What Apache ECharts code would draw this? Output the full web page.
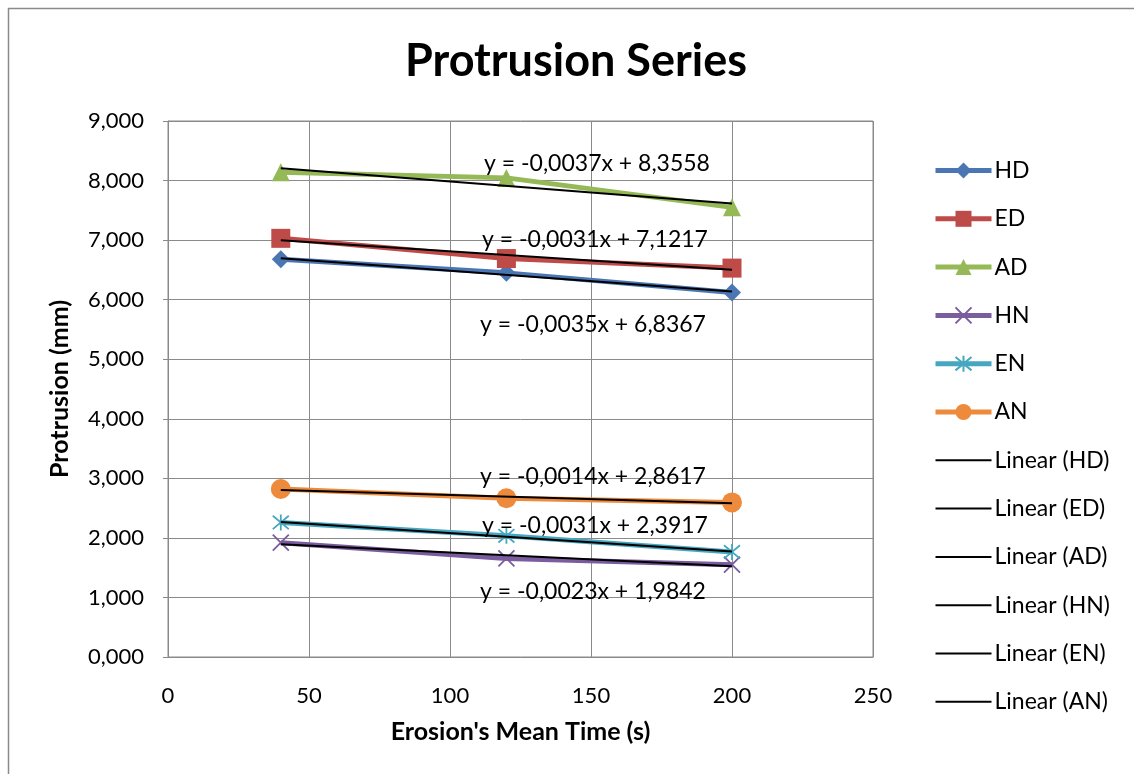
<!DOCTYPE html>
<html>
<head>
<meta charset="utf-8">
<script src="https://cdn.jsdelivr.net/npm/echarts@6/dist/echarts.min.js"></script>
<style>
  html, body { margin: 0; padding: 0; background: #fff; }
  #chart { width: 1134px; height: 774px; }
</style>
</head>
<body>
<div id="chart"></div>
<script>
// Erosion mean times (s) at which protrusion was measured
const times = [40, 120, 200];

// Protrusion (mm) per series
const seriesNames = ['HD', 'ED', 'AD', 'HN', 'EN', 'AN'];
const HD = [6.68, 6.45, 6.12];
const ED = [7.03, 6.69, 6.53];
const AD = [8.14, 8.045, 7.55];
const HN = [1.92, 1.655, 1.55];
const EN = [2.26, 2.035, 1.764];
const AN = [2.82, 2.665, 2.596];

// Linear trendline coefficients (slope, intercept) per series
const slopes = [-0.0035, -0.0031, -0.0037, -0.0023, -0.0031, -0.0014];
const intercepts = [6.8367, 7.1217, 8.3558, 1.9842, 2.3917, 2.8617];

// Y axis ticks
const yTicks = [0, 1, 2, 3, 4, 5, 6, 7, 8, 9];

const FONT = 'Lato, "Open Sans", sans-serif';
const values = [HD, ED, AD, HN, EN, AN];
const colors = ['#4A77B4', '#BE4B48', '#94B956', '#7A5C9F', '#46A7C1', '#EE8A3C'];

const crossPath = 'path://M0,0L10,10M10,0L0,10';
const starPath = 'path://M0,0L10,10M10,0L0,10M5,-1L5,11';
const symbols = ['diamond', 'rect', 'triangle', crossPath, starPath, 'circle'];
const symbolSizes = [18, 19, 18, 16, 16, 20];

const fmt = (v) => v.toFixed(3).replace('.', ',');
const fmtCoef = (v, d) => v.toFixed(d).replace('.', ',');

const dataSeries = seriesNames.map((name, i) => {
  const stroke = i === 3 || i === 4;
  return {
    name: name,
    type: 'line',
    data: times.map((t, j) => [t, values[i][j]]),
    symbol: symbols[i],
    symbolSize: symbolSizes[i],
    lineStyle: { color: colors[i], width: 5 },
    itemStyle: stroke
      ? { color: colors[i], borderColor: colors[i], borderWidth: 1.8 }
      : { color: colors[i] },
    z: 2,
    animation: false
  };
});

const trendNames = seriesNames.map(n => 'Linear (' + n + ')');
const trendSeries = seriesNames.map((name, i) => ({
  name: trendNames[i],
  type: 'line',
  data: [times[0], times[times.length - 1]].map(t => [t, slopes[i] * t + intercepts[i]]),
  symbol: 'none',
  lineStyle: { color: '#000', width: 2 },
  itemStyle: { color: '#000' },
  z: 3,
  animation: false
}));

// Trendline equation labels
const eqPos = [[593, 325], [595, 240], [597, 164], [593, 592], [595, 526], [593, 477]];
const eqLabels = seriesNames.map((name, i) => ({
  type: 'text',
  x: eqPos[i][0],
  y: eqPos[i][1],
  z: 10,
  style: {
    text: 'y = ' + fmtCoef(slopes[i], 4) + 'x + ' + fmtCoef(intercepts[i], 4),
    font: '23px ' + FONT,
    fill: '#000',
    align: 'center',
    verticalAlign: 'middle'
  }
}));

const legendData = seriesNames.map(n => ({ name: n, lineStyle: { width: 5 } }))
  .concat(trendNames.map(n => ({ name: n, itemStyle: { opacity: 0 }, lineStyle: { width: 2 } })));

const chart = echarts.init(document.getElementById('chart'), null, { renderer: 'canvas' });
chart.setOption({
  backgroundColor: '#fff',
  animation: false,
  title: {
    text: 'Protrusion Series',
    left: 571,
    top: 34,
    textAlign: 'center',
    textStyle: { fontFamily: FONT, fontSize: 45, fontWeight: 'bold', color: '#000' }
  },
  grid: { left: 168, right: 261, top: 121, bottom: 117, show: true, borderColor: '#8a8a8a', borderWidth: 1 },
  xAxis: {
    type: 'value',
    min: 0, max: 250, interval: 50,
    name: "Erosion's Mean Time (s)",
    nameLocation: 'middle',
    nameGap: 62,
    nameTextStyle: { fontFamily: FONT, fontSize: 25, fontWeight: 'bold', color: '#000' },
    axisLine: { lineStyle: { color: '#8a8a8a', width: 1 } },
    axisTick: { show: false },
    axisLabel: { fontFamily: FONT, fontSize: 22, color: '#000', margin: 28 },
    splitLine: { show: true, lineStyle: { color: '#8a8a8a', width: 1 } }
  },
  yAxis: {
    type: 'value',
    min: yTicks[0], max: yTicks[yTicks.length - 1], interval: 1,
    name: 'Protrusion (mm)',
    nameLocation: 'middle',
    nameGap: 96,
    nameTextStyle: { fontFamily: FONT, fontSize: 25, fontWeight: 'bold', color: '#000' },
    axisLine: { show: true, lineStyle: { color: '#8a8a8a', width: 1 } },
    axisTick: { show: true, length: 5, lineStyle: { color: '#8a8a8a' } },
    axisLabel: { fontFamily: FONT, fontSize: 22, color: '#000', margin: 24, formatter: fmt },
    splitLine: { show: true, lineStyle: { color: '#8a8a8a', width: 1 } }
  },
  legend: {
    orient: 'vertical',
    left: 928,
    top: 154,
    itemWidth: 56,
    itemHeight: 20,
    itemGap: 25.3,
    textStyle: { fontFamily: FONT, fontSize: 23, color: '#000', padding: [0, 0, 0, -2] },
    data: legendData
  },
  graphic: [
    {
      type: 'rect',
      shape: { x: 8.5, y: 8.5, width: 1140, height: 780 },
      style: { fill: 'none', stroke: '#8a8a8a', lineWidth: 1.5 },
      silent: true,
      z: -1
    }
  ].concat(eqLabels),
  series: dataSeries.concat(trendSeries)
});
</script>
</body>
</html>
